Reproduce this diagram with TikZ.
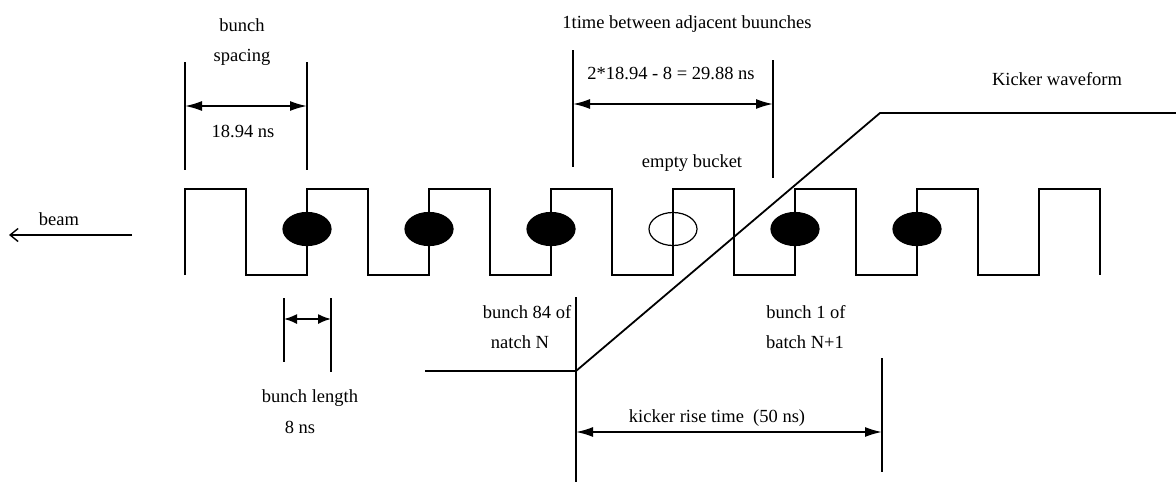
\documentclass[tikz,border=0pt]{standalone}
\usepackage{fontspec}
\setmainfont{Liberation Serif}
\usetikzlibrary{shapes.geometric,arrows.meta}

\tikzset{
  lbl/.style={inner sep=0pt, anchor=base},
  dimarrow/.style={line width=1.7pt, {Latex[length=17pt,width=10pt]}-{Latex[length=17pt,width=10pt]}},
  bunch/.style={ellipse, draw, line width=1.2pt, minimum width=48pt, minimum height=33pt, inner sep=0pt},
}

\begin{document}
\begin{tikzpicture}[x=1pt, y=-1pt, line width=1.4pt, font=\fontsize{18.5}{22}\selectfont]
            \useasboundingbox (0,0) rectangle (1176,482);

            \draw (185,275) foreach \i in {0,...,6} {-- ++(0,-86) -- ++(61,0) -- ++(0,86) -- ++(61,0)}
                -- ++(0,-86) -- ++(61,0) -- ++(0,86);

            \node[bunch, fill=black] (b1) at (307,229) {};
            \node[bunch, fill=black] (b2) at (429,229) {};
            \node[bunch, fill=black] (b3) at (551,229) {};
            \node[bunch] (e1) at (673,229) {};
            \draw (673,189) -- (673,275);
            \node[bunch, fill=black] (b4) at (795,229) {};
            \node[bunch, fill=black] (b5) at (917,229) {};

            \coordinate (beamA) at (132,235);
            \coordinate (beamB) at (9,235);
            \node[lbl] (beam) at (59,225) {beam};
            \draw[-{Straight Barb[length=8pt,width=13pt]}] (beamA)--(beamB);

            \node[lbl] (sp1) at (242,31) {bunch};
            \node[lbl] (sp2) at (242,61) {spacing};
            \node[lbl] (sp3) at (243,137) {18.94 ns};
            \coordinate (s1t) at (185,62); \coordinate (s1b) at (185,170);
            \coordinate (s2t) at (307,62); \coordinate (s2b) at (307,170);
            \coordinate (s1m) at (185,106); \coordinate (s2m) at (307,106);
            \draw (s1t)--(s1b); \draw (s2t)--(s2b);
            \draw[dimarrow] (s1m)--(s2m);

            \node[lbl] (gap1) at (687,28) {1time between adjacent buunches};
            \node[lbl] (gap2) at (671,79) {2*18.94 - 8 = 29.88 ns};
            \node[lbl] (empty) at (692,167) {empty bucket};
            \coordinate (g1t) at (573,50); \coordinate (g1b) at (573,167);
            \coordinate (g2t) at (773,60); \coordinate (g2b) at (773,178);
            \coordinate (g1m) at (573,104); \coordinate (g2m) at (773,104);
            \draw (g1t)--(g1b); \draw (g2t)--(g2b);
            \draw[dimarrow] (g1m)--(g2m);

            \node[lbl] (len1) at (310,402) {bunch length};
            \node[lbl] (len2) at (300,433) {8 ns};
            \coordinate (l1t) at (284,298); \coordinate (l1b) at (284,362);
            \coordinate (l2t) at (331,298); \coordinate (l2b) at (331,372);
            \coordinate (l1m) at (284,319); \coordinate (l2m) at (331,319);
            \draw (l1t)--(l1b); \draw (l2t)--(l2b);
            \draw[dimarrow, {Latex[length=13pt,width=10pt]}-{Latex[length=13pt,width=10pt]}] (l1m)--(l2m);

            \coordinate (k0) at (425,371);
            \coordinate (k1) at (576,371);
            \coordinate (k2) at (880,113);
            \coordinate (k3) at (1176,113);
            \draw[line width=1.8pt] (k0)--(k1)--(k2)--(k3);
            \node[lbl] (kick) at (1057,85) {Kicker waveform};

            \node[lbl] (n84a) at (527,318) {bunch 84 of};
            \node[lbl] (n84b) at (520,348) {natch N};
            \node[lbl] (n1a) at (806,318) {bunch 1 of};
            \node[lbl] (n1b) at (805,348) {batch N+1};

            \node[lbl] (rise) at (717,422) {kicker rise time\ \ (50 ns)};
            \coordinate (r1t) at (576,297); \coordinate (r1b) at (576,482);
            \coordinate (r2t) at (882,358); \coordinate (r2b) at (882,472);
            \coordinate (r1m) at (576,432); \coordinate (r2m) at (882,432);
            \draw (r1t)--(r1b); \draw (r2t)--(r2b);
            \draw[dimarrow] (r1m)--(r2m);
        \end{tikzpicture}
\end{document}
